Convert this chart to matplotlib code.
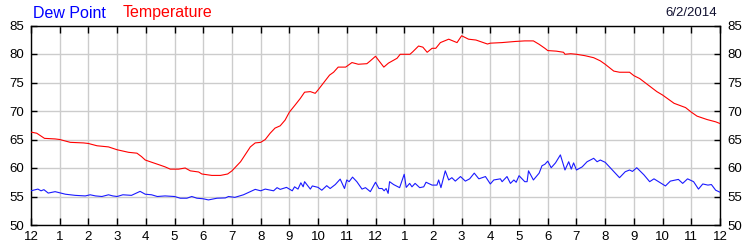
import matplotlib
matplotlib.use("Agg")
import matplotlib.pyplot as plt

plt.rcParams['font.family'] = ['Liberation Sans', 'DejaVu Sans']

temp_hours = [0, 0.2, 0.47, 0.84, 1.0, 1.37, 1.83, 2.0, 2.3, 2.7, 3.0, 3.4, 3.69, 3.85, 3.98,
              4.15, 4.5, 4.67, 4.85, 5.14, 5.37, 5.55, 5.84, 5.95, 6.3, 6.6, 6.85, 7.0, 7.3,
              7.64, 7.81, 8.0, 8.16, 8.33, 8.5, 8.68, 8.85, 9.0, 9.2, 9.38, 9.53, 9.73, 9.9,
              10.0, 10.2, 10.4, 10.54, 10.7, 10.96, 11.18, 11.4, 11.7, 11.82, 12.0, 12.29,
              12.45, 12.75, 12.86, 13.2, 13.3, 13.5, 13.65, 13.8, 13.97, 14.1, 14.26, 14.55,
              14.84, 15.0, 15.24, 15.5, 15.9, 16.0, 16.4, 16.87, 17.2, 17.5, 17.7, 17.9, 18.0,
              18.3, 18.55, 18.6, 18.8, 19.0, 19.3, 19.6, 19.83, 20.0, 20.3, 20.5, 20.85, 21.0,
              21.2, 21.5, 21.8, 22.0, 22.4, 22.8, 23.0, 23.2, 23.55, 23.85, 24.0]
temp_values = [66.3, 66.1, 65.2, 65.1, 65.0, 64.5, 64.4, 64.3, 63.9, 63.7, 63.2, 62.75, 62.6, 62.0, 61.4,
               61.1, 60.5, 60.2, 59.8, 59.8, 60.0, 59.5, 59.3, 58.95, 58.7, 58.7, 58.95, 59.5, 61.1,
               63.7, 64.4, 64.5, 65.0, 66.1, 67.0, 67.4, 68.4, 69.8, 71.05, 72.2, 73.3, 73.4, 73.1,
               73.7, 75.0, 76.3, 76.8, 77.7, 77.7, 78.5, 78.2, 78.3, 78.8, 79.6, 77.7,
               78.4, 79.25, 79.95, 79.95, 80.4, 81.4, 81.2, 80.3, 81.0, 81.0, 82.0, 82.6,
               82.0, 83.2, 82.6, 82.45, 81.75, 81.9, 82.0, 82.2, 82.3, 82.3, 81.7, 81.0, 80.6,
               80.5, 80.3, 79.95, 80.05, 79.95, 79.7, 79.35, 78.8, 78.2, 77.0, 76.8, 76.8, 76.2,
               75.7, 74.55, 73.4, 72.8, 71.35, 70.6, 69.8, 69.1, 68.5, 68.1, 67.8]

dew_hours = [0, 0.24, 0.35, 0.45, 0.6, 0.84, 1.2, 1.54, 1.89, 2.06, 2.25, 2.47, 2.7, 2.85, 3.0,
             3.2, 3.5, 3.8, 3.98, 4.2, 4.4, 4.67, 5.0, 5.2, 5.43, 5.6, 5.78, 6.0, 6.18, 6.48,
             6.77, 6.88, 7.1, 7.4, 7.64, 7.81, 8.0, 8.16, 8.45, 8.57, 8.68, 8.9, 9.1, 9.18,
             9.3, 9.4, 9.48, 9.53, 9.73, 9.8, 10.0, 10.13, 10.3, 10.42, 10.6, 10.77, 10.92,
             11.0, 11.08, 11.2, 11.35, 11.53, 11.65, 11.82, 12.0, 12.12, 12.23, 12.3, 12.37,
             12.44, 12.49, 12.63, 12.84, 13.0, 13.07, 13.19, 13.27, 13.38, 13.54, 13.68, 13.76,
             13.97, 14.14, 14.2, 14.28, 14.43, 14.55, 14.66, 14.78, 14.96, 15.13, 15.28, 15.44,
             15.6, 15.83, 16.0, 16.12, 16.35, 16.41, 16.58, 16.7, 16.82, 16.9, 17.0, 17.2,
             17.28, 17.33, 17.5, 17.7, 17.8, 17.9, 18.0, 18.12, 18.27, 18.44, 18.6, 18.73,
             18.82, 18.9, 19.0, 19.2, 19.37, 19.6, 19.72, 19.83, 20.0, 20.25, 20.5, 20.7,
             20.85, 20.95, 21.1, 21.35, 21.55, 21.7, 21.86, 22.1, 22.27, 22.55, 22.7, 22.87,
             23.08, 23.25, 23.4, 23.58, 23.7, 23.85, 24.0]
dew_values = [56.0, 56.3, 56.0, 56.2, 55.6, 55.85, 55.4, 55.2, 55.1, 55.3, 55.1, 55.0, 55.3, 55.1, 55.0,
              55.3, 55.2, 55.9, 55.4, 55.3, 55.0, 55.1, 55.0, 54.7, 54.7, 55.0, 54.7, 54.6, 54.4, 54.7,
              54.75, 55.0, 54.85, 55.3, 55.85, 56.25, 56.0, 56.3, 56.0, 56.55, 56.25, 56.6, 56.0, 56.7,
              56.3, 57.4, 56.7, 57.6, 56.3, 56.85, 56.6, 56.1, 56.9, 56.4, 57.1, 58.05, 56.4,
              57.9, 57.6, 58.4, 57.6, 56.3, 56.55, 55.85, 57.5, 56.4, 56.4, 56.0, 56.4,
              55.55, 57.6, 57.1, 56.55, 58.9, 56.6, 57.3, 56.7, 57.3, 56.55, 56.7, 57.5,
              57.0, 57.0, 57.9, 56.55, 59.5, 57.9, 58.3, 57.7, 58.5, 57.7, 58.1, 59.1,
              58.1, 58.5, 57.2, 57.9, 58.1, 57.6, 58.5, 57.3, 57.9, 57.5, 58.65, 57.6,
              57.6, 59.5, 57.9, 59.1, 60.4, 60.65, 61.2, 60.05, 60.9, 62.3, 59.65, 61.1,
              59.8, 60.9, 59.65, 60.2, 61.1, 61.7, 61.1, 61.4, 61.0, 59.65, 58.3, 59.35,
              59.65, 59.4, 60.05, 58.8, 57.6, 58.1, 57.6, 56.85, 57.7, 58.0, 57.3, 58.1,
              57.6, 56.3, 57.2, 57.0, 57.1, 56.1, 55.75]

x_ticks = list(range(0, 25))
x_labels = ['12', '1', '2', '3', '4', '5', '6', '7', '8', '9', '10', '11',
            '12', '1', '2', '3', '4', '5', '6', '7', '8', '9', '10', '11', '12']
y_ticks = [50, 55, 60, 65, 70, 75, 80, 85]
date_label = '6/2/2014'

fig = plt.figure(figsize=(7.5, 2.5), dpi=100)
ax = fig.add_axes([31 / 750, 1 - 225 / 250, (720 - 31) / 750, (225 - 25.5) / 250])

ax.plot(temp_hours, temp_values, color='#ff0000', lw=0.8, zorder=3)
ax.plot(dew_hours, dew_values, color='#1a1aff', lw=0.8, zorder=3)

ax.set_xlim(0, 24)
ax.set_ylim(50, 85)
ax.set_xticks(x_ticks)
ax.set_xticklabels(x_labels)
ax.set_yticks(y_ticks)
ax.grid(True, color='#cccccc', lw=1.0, zorder=0)
ax.set_axisbelow(True)
for s in ax.spines.values():
    s.set_color('black')
    s.set_linewidth(1.0)

ax.tick_params(axis='x', direction='in', length=5, width=1, top=True, bottom=True,
               labelsize=9.5, pad=4, colors='black')
ax.tick_params(axis='y', direction='in', length=4, width=1, left=True, right=True,
               labelleft=True, labelright=True, labelsize=9.5, pad=5, colors='black')

fig.text(33 / 750, 1 - 13 / 250, 'Dew Point', color='#0000ff', fontsize=11.5,
         va='center', ha='left')
fig.text(123 / 750, 1 - 13 / 250, 'Temperature', color='#ff0000', fontsize=11.5,
         va='center', ha='left')
fig.text(717 / 750, 1 - 13 / 250, date_label, color='#101030', fontsize=9.5,
         va='center', ha='right')

fig.savefig('out.png', dpi=100)
